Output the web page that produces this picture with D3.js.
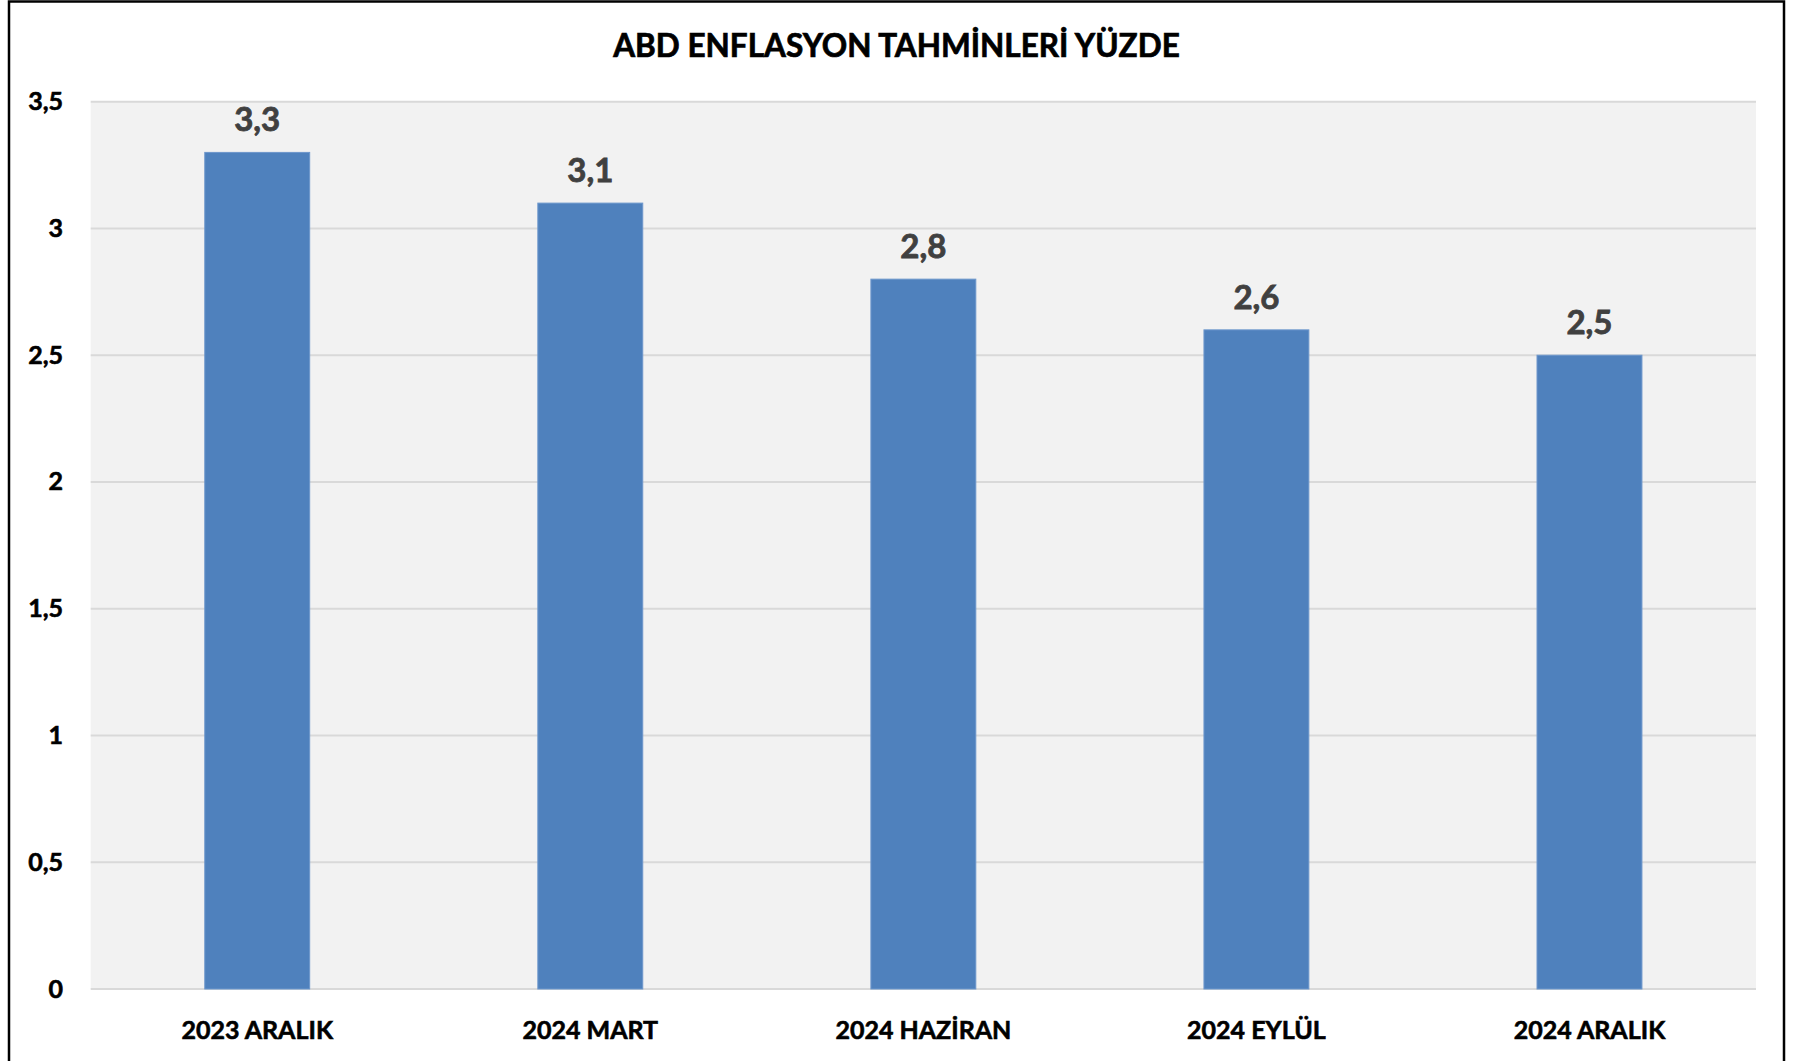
<!DOCTYPE html>
<html>
<head>
<meta charset="utf-8">
<script src="https://cdn.jsdelivr.net/npm/d3@7/dist/d3.min.js"></script>
<style>
  html, body { margin: 0; padding: 0; background: #ffffff; }
  svg { display: block; }
  text { font-family: Lato, "Open Sans", sans-serif; font-weight: 700; }
</style>
</head>
<body>
<script>
const title = "ABD ENFLASYON TAHMİNLERİ YÜZDE";
const categories = ["2023 ARALIK", "2024 MART", "2024 HAZİRAN", "2024 EYLÜL", "2024 ARALIK"];
const values = [3.3, 3.1, 2.8, 2.6, 2.5];
const yTicks = [0, 0.5, 1, 1.5, 2, 2.5, 3, 3.5];

const W = 1793, H = 1061;
const plot = { left: 90.7, right: 1756, top: 101.7, bottom: 989 };

const fmt = v => String(v).replace(".", ",");

const svg = d3.select("body").append("svg").attr("width", W).attr("height", H);

// frame
svg.append("rect")
  .attr("x", 9).attr("y", 1.5)
  .attr("width", 1784 - 9).attr("height", 1075)
  .attr("fill", "#ffffff").attr("stroke", "#000000").attr("stroke-width", 2.5);

const x = d3.scaleBand().domain(categories)
  .range([plot.left, plot.right])
  .paddingInner(0.685).paddingOuter(0.3425);
const y = d3.scaleLinear().domain([0, 3.5]).range([plot.bottom, plot.top]);

// plot background
svg.append("rect")
  .attr("x", plot.left).attr("y", plot.top)
  .attr("width", plot.right - plot.left).attr("height", plot.bottom - plot.top)
  .attr("fill", "#f2f2f2");

// gridlines
svg.append("g").selectAll("line").data(yTicks).join("line")
  .attr("x1", plot.left).attr("x2", plot.right)
  .attr("y1", d => y(d)).attr("y2", d => y(d))
  .attr("stroke", "#d9d9d9").attr("stroke-width", 2);

// y axis labels
const yAxis = d3.axisLeft(y).tickValues(yTicks).tickFormat(fmt).tickSize(0).tickPadding(0);
const gy = svg.append("g").attr("transform", `translate(${63},0)`).call(yAxis);
gy.select(".domain").remove();
gy.selectAll("text").attr("font-size", 25).attr("fill", "#000000")
  .attr("stroke", "#000000").attr("stroke-width", 0.6)
  .attr("font-family", "Lato, sans-serif").attr("font-weight", 700);

// bars
svg.append("g").selectAll("rect").data(values).join("rect")
  .attr("x", (d, i) => x(categories[i]))
  .attr("width", x.bandwidth())
  .attr("y", d => y(d))
  .attr("height", d => y(0) - y(d))
  .attr("fill", "#4f81bd")
  .attr("stroke", "#6d97cc").attr("stroke-width", 1);

// value labels
svg.append("g").selectAll("text").data(values).join("text")
  .attr("x", (d, i) => x(categories[i]) + x.bandwidth() / 2)
  .attr("y", d => y(d) - 21)
  .attr("text-anchor", "middle")
  .attr("font-size", 33)
  .attr("fill", "#404040")
  .attr("stroke", "#404040").attr("stroke-width", 0.8)
  .text(fmt);

// x axis labels
const xAxis = d3.axisBottom(x).tickSize(0).tickPadding(0);
const gx = svg.append("g").attr("transform", `translate(0,${1038.5})`).call(xAxis);
gx.select(".domain").remove();
gx.selectAll("text").attr("font-size", 25).attr("fill", "#000000")
  .attr("stroke", "#000000").attr("stroke-width", 0.6)
  .attr("font-family", "Lato, sans-serif").attr("font-weight", 700)
  .attr("dy", 0);

// title
svg.append("text")
  .attr("x", (9 + 1784) / 2).attr("y", 57)
  .attr("text-anchor", "middle")
  .attr("font-size", 31.5)
  .attr("fill", "#000000")
  .attr("stroke", "#000000").attr("stroke-width", 0.7)
  .text(title);
</script>
</body>
</html>
